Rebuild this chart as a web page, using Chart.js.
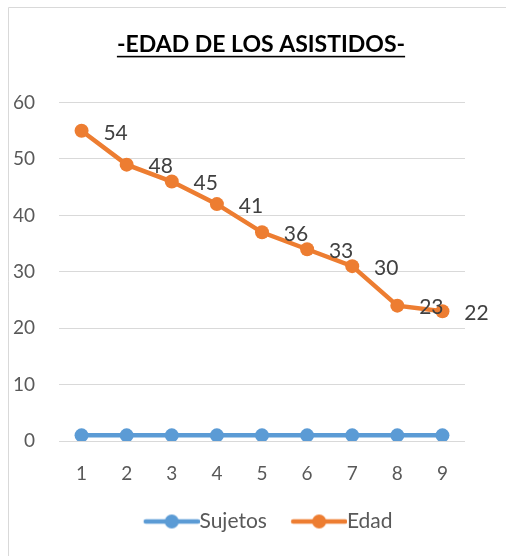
<!DOCTYPE html>
<html>
<head>
<meta charset="utf-8">
<script src="https://cdn.jsdelivr.net/npm/chart.js@4.4.1/dist/chart.umd.min.js"></script>
<style>
  html, body { margin: 0; padding: 0; background: #fff; overflow: hidden; }
  #wrap { position: relative; width: 506px; height: 556px; overflow: hidden; }
</style>
</head>
<body>
<div id="wrap"><canvas id="c" width="514" height="556"></canvas></div>
<script>
// Edad de los asistidos - line chart (Edad stacked on top of Sujetos, like the Excel original)
const categories = ['1', '2', '3', '4', '5', '6', '7', '8', '9'];
const sujetos = [1, 1, 1, 1, 1, 1, 1, 1, 1];
const edad = [54, 48, 45, 41, 36, 33, 30, 23, 22];
const yTicks = [0, 10, 20, 30, 40, 50, 60];

const BLUE = '#5b9bd5';
const ORANGE = '#ed7d31';
const FONT = 'Lato, "Open Sans", sans-serif';
const TITLE_SIZE = 23;

// legend marker: line with a dot in the middle, with blank space on its left
// so there is a gap between the legend entries
function legendMarker(color) {
  const c = document.createElement('canvas');
  c.width = 81;
  c.height = 16;
  const g = c.getContext('2d');
  g.strokeStyle = color;
  g.lineWidth = 4.5;
  g.lineCap = 'round';
  g.beginPath();
  g.moveTo(27, 8);
  g.lineTo(79, 8);
  g.stroke();
  g.fillStyle = color;
  g.beginPath();
  g.arc(53, 8, 7, 0, Math.PI * 2);
  g.fill();
  return c;
}

// frame around the chart (only top and left edges are visible)
const framePlugin = {
  id: 'frame',
  beforeDraw(chart) {
    const ctx = chart.ctx;
    ctx.save();
    ctx.strokeStyle = '#d9d9d9';
    ctx.lineWidth = 1;
    ctx.beginPath();
    ctx.moveTo(8.5, 556);
    ctx.lineTo(8.5, 7.5);
    ctx.lineTo(514, 7.5);
    ctx.stroke();
    ctx.restore();
  }
};

// underline under the title
const underlinePlugin = {
  id: 'underline',
  afterDraw(chart) {
    const t = chart.titleBlock;
    if (!t) return;
    const ctx = chart.ctx;
    ctx.save();
    ctx.font = 'bold ' + TITLE_SIZE + 'px ' + FONT;
    const w = ctx.measureText(chart.options.plugins.title.text).width;
    const cx = (t.left + t.right) / 2;
    const cy = t.top + t.options.padding.top + TITLE_SIZE * 0.6;
    ctx.fillStyle = '#000';
    ctx.fillRect(cx - w / 2, cy + 11, w, 1.6);
    ctx.restore();
  }
};

// value labels to the right of each Edad point
const labelPlugin = {
  id: 'valueLabels',
  afterDatasetsDraw(chart) {
    const ctx = chart.ctx;
    const meta = chart.getDatasetMeta(1);
    ctx.save();
    ctx.font = '21px ' + FONT;
    ctx.fillStyle = '#404040';
    ctx.textAlign = 'center';
    ctx.textBaseline = 'middle';
    meta.data.forEach((pt, i) => {
      ctx.fillText(String(edad[i]), pt.x + 34, pt.y + 2);
    });
    ctx.restore();
  }
};

new Chart(document.getElementById('c'), {
  type: 'line',
  data: {
    labels: categories,
    datasets: [
      {
        label: 'Sujetos',
        data: sujetos,
        borderColor: BLUE,
        backgroundColor: BLUE,
        borderWidth: 4.5,
        pointRadius: 7,
        pointBorderWidth: 0,
        pointBackgroundColor: BLUE,
        pointStyle: 'circle',
        tension: 0
      },
      {
        label: 'Edad',
        data: edad,
        borderColor: ORANGE,
        backgroundColor: ORANGE,
        borderWidth: 4.5,
        pointRadius: 7,
        pointBorderWidth: 0,
        pointBackgroundColor: ORANGE,
        pointStyle: 'circle',
        tension: 0
      }
    ]
  },
  options: {
    responsive: false,
    animation: false,
    layout: { padding: { left: 8, right: 0, top: 0, bottom: 14 } },
    plugins: {
      title: {
        display: true,
        text: '-EDAD DE LOS ASISTIDOS-',
        color: '#000',
        font: { family: FONT, size: TITLE_SIZE, weight: 'bold' },
        padding: { top: 31, bottom: 44 }
      },
      legend: {
        position: 'bottom',
        labels: {
          color: '#595959',
          font: { family: FONT, size: 21 },
          usePointStyle: true,
          pointStyleWidth: 59.5,
          padding: 10,
          generateLabels(chart) {
            return chart.data.datasets.map((ds, i) => ({
              text: ds.label,
              pointStyle: legendMarker(ds.borderColor),
              fillStyle: ds.borderColor,
              strokeStyle: ds.borderColor,
              lineWidth: 0,
              hidden: false,
              datasetIndex: i,
              fontColor: '#595959'
            }));
          }
        }
      },
      tooltip: { enabled: false }
    },
    scales: {
      x: {
        offset: true,
        grid: { display: false, drawTicks: false },
        border: { display: false },
        ticks: { color: '#595959', font: { family: FONT, size: 19 }, padding: 21 },
        afterFit(scale) { scale.height = 60; }
      },
      y: {
        stacked: true,
        min: 0,
        max: 60,
        afterBuildTicks(scale) { scale.ticks = yTicks.map(v => ({ value: v })); },
        afterFit(scale) { scale.width = 51; },
        grid: { color: '#d9d9d9', lineWidth: 1, drawTicks: false },
        border: { display: false },
        ticks: { color: '#595959', font: { family: FONT, size: 19 }, padding: 24 }
      },
      // empty right-hand spacer so the plot ends where the original does
      yRight: {
        position: 'right',
        min: 0,
        max: 60,
        grid: { display: false, drawTicks: false },
        border: { display: false },
        ticks: { display: false },
        afterFit(scale) { scale.width = 49; }
      }
    }
  },
  plugins: [framePlugin, underlinePlugin, labelPlugin]
});
</script>
</body>
</html>
